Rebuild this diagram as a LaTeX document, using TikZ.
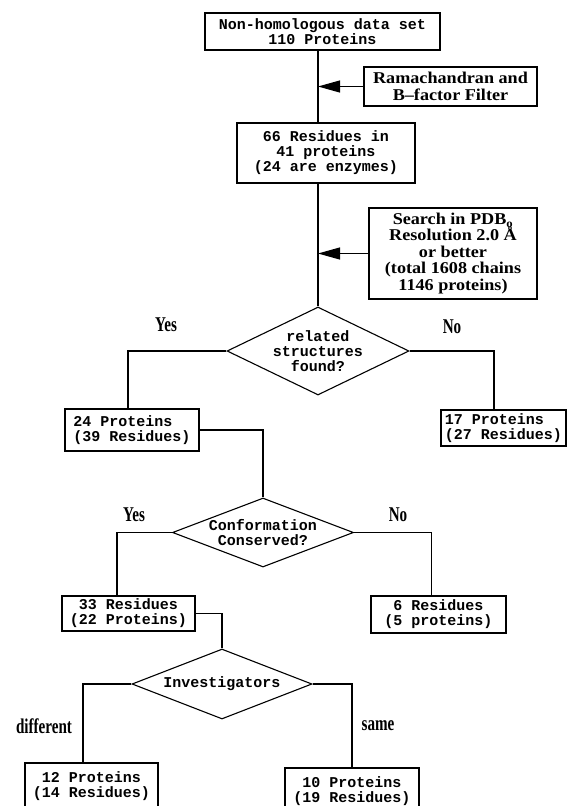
\documentclass[tikz,border=0pt]{standalone}
\usepackage{fontspec}
\usepackage{tikz}
\usetikzlibrary{shapes,arrows.meta}

\newfontfamily\boxfont{Liberation Mono}
\newfontfamily\notefont[FakeStretch=1.1]{Liberation Serif}
\newfontfamily\answerfont[FakeStretch=0.72]{Liberation Serif}

\tikzset{
  databox/.style={draw, line width=1.2pt, inner sep=2pt, align=center, font=\boxfont\bfseries\fontsize{15}{15}\selectfont},
  notebox/.style={draw, line width=1.2pt, inner sep=2pt, align=center, font=\notefont\bfseries\fontsize{16.5}{16.5}\selectfont},
  decision/.style={draw, diamond, line width=1.1pt, inner sep=0pt, align=center, font=\boxfont\bfseries\fontsize{15}{15}\selectfont},
  answer/.style={inner sep=0pt, font=\answerfont\bfseries\fontsize{21}{21}\selectfont},
  flow/.style={line width=1.1pt},
  feed/.style={line width=1.1pt, -{Triangle[length=22pt,width=12pt]}},
}

\begin{document}
\begin{tikzpicture}[x=1pt,y=-1pt]
    \useasboundingbox (0,0) rectangle (568,806);
    \clip (0,0) rectangle (568,806);

    %Box: data set
    \node (top) at (322.5,31.5) [databox, minimum width=235pt, minimum height=37pt] {Non-homologous data set\\110 Proteins};
    %Box: filter
    \node (rama) at (450.5,86.5) [notebox, minimum width=173pt, minimum height=39pt] {Ramachandran and\\B–factor Filter};
    %Box: residues
    \node (res66) at (326,153) [databox, minimum width=178pt, minimum height=60pt] {66 Residues in\\41 proteins\\(24 are enzymes)};
    %Box: search
    \node (search) at (453,253.5) [notebox, minimum width=168pt, minimum height=91pt] {Search in PDB\textsubscript{o}\\Resolution 2.0 Å\\or better\\(total 1608 chains\\1146 proteins)};
    %Diamond: related structures
    \node (d1) at (318,351) [decision, shape aspect=2.07, minimum width=182pt, minimum height=88pt] {related\\structures\\found?};
    \node (b24) at (132,430) [databox, align=left, minimum width=134pt, minimum height=42pt] {24 Proteins\\(39 Residues)};
    \node (b17) at (503.5,428) [databox, align=left, minimum width=125pt, minimum height=36pt] {17 Proteins\\(27 Residues)};
    %Diamond: conformation
    \node (d2) at (263,532.5) [decision, shape aspect=2.62, minimum width=181pt, minimum height=69pt] {Conformation\\Conserved?};
    \node (b33) at (128.5,613.5) [databox, minimum width=133pt, minimum height=35pt] {33 Residues\\(22 Proteins)};
    \node (b6) at (438.5,614.5) [databox, minimum width=135pt, minimum height=37pt] {6 Residues\\(5 proteins)};
    %Diamond: investigators
    \node (d3) at (222,684) [decision, shape aspect=4.2, minimum width=180pt, minimum height=70pt] {Investigators};
    \node (b12) at (91.5,786) [databox, minimum width=133pt, minimum height=46pt] {12 Proteins\\(14 Residues)};
    \node (b10) at (352,791) [databox, minimum width=134pt, minimum height=46pt] {10 Proteins\\(19 Residues)};

    % Text Node
    \node (yes1) at (166,325) [answer] {Yes};
    \node (no1) at (452,327) [answer] {No};
    \node (yes2) at (134,515) [answer] {Yes};
    \node (no2) at (398,515) [answer] {No};
    \node (diff) at (44,726) [answer] {different};
    \node (same) at (378,726) [answer] {same};

    %Straight Lines
    \coordinate (j1) at (d1.north |- rama.west);
    \coordinate (j2) at (d1.north |- search.west);
    \draw [flow] (top.south -| d1.north) -- (res66.north -| d1.north);
    \draw [flow] (res66.south -| d1.north) -- (d1.north);
    \draw [feed] (rama.west) -- (j1);
    \draw [feed] (search.west) -- (j2);
    \draw [flow] (d1.west) -| ([xshift=-4pt]b24.north);
    \draw [flow] (d1.east) -| ([xshift=-9.5pt]b17.north);
    \draw [flow] (b24.east) -| (d2.north);
    \draw [flow] (d2.west) -| ([xshift=-11.5pt]b33.north);
    \draw [flow] (d2.east) -| ([xshift=-7pt]b6.north);
    \draw [flow] (b33.east) -| (d3.north);
    \draw [flow] (d3.west) -| ([xshift=-8.5pt]b12.north);
    \draw [flow] (d3.east) -| (b10.north);
\end{tikzpicture}
\end{document}
